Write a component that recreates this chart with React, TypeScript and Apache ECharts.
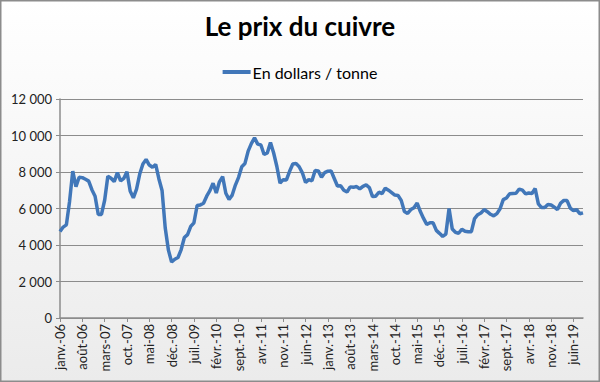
import React, { useEffect, useRef } from "react";
import * as echarts from "echarts";

const monthNames = ["janv.", "févr.", "mars", "avr.", "mai", "juin", "juil.", "août", "sept.", "oct.", "nov.", "déc."];
const years = ["06", "07", "08", "09", "10", "11", "12", "13", "14", "15", "16", "17", "18", "19"];

const prices2006 = [4734, 4982, 5102, 6388, 8046, 7197, 7712, 7692, 7601, 7500, 7029, 6675];
const prices2007 = [5670, 5676, 6452, 7766, 7657, 7475, 7970, 7510, 7649, 8008, 6963, 6587];
const prices2008 = [7061, 7888, 8439, 8685, 8383, 8260, 8414, 7633, 6990, 4926, 3717, 3072];
const prices2009 = [3221, 3315, 3750, 4407, 4569, 5015, 5216, 6165, 6196, 6288, 6676, 6982];
const prices2010 = [7386, 6848, 7463, 7745, 6838, 6499, 6735, 7284, 7709, 8292, 8470, 9147];
const prices2011 = [9556, 9868, 9530, 9483, 8959, 9045, 9620, 9040, 8300, 7394, 7581, 7566];
const prices2012 = [8040, 8441, 8471, 8290, 7955, 7423, 7584, 7515, 8088, 8062, 7711, 7966];
const prices2013 = [8047, 8060, 7646, 7234, 7249, 7000, 6907, 7186, 7159, 7203, 7071, 7215];
const prices2014 = [7291, 7149, 6650, 6674, 6891, 6821, 7113, 7002, 6872, 6737, 6713, 6446];
const prices2015 = [5831, 5729, 5940, 6042, 6295, 5833, 5457, 5127, 5217, 5216, 4800, 4639];
const prices2016 = [4472, 4599, 6000, 4873, 4695, 4642, 4864, 4751, 4722, 4731, 5450, 5660];
const prices2017 = [5755, 5941, 5825, 5684, 5600, 5720, 5985, 6485, 6577, 6809, 6826, 6834];
const prices2018 = [7066, 7006, 6800, 6852, 6824, 7092, 6252, 6051, 6050, 6220, 6195, 6073];
const prices2019 = [5939, 6301, 6439, 6433, 6024, 5882, 5941, 5710, 5760];

const prices = [
  ...prices2006, ...prices2007, ...prices2008, ...prices2009, ...prices2010,
  ...prices2011, ...prices2012, ...prices2013, ...prices2014, ...prices2015,
  ...prices2016, ...prices2017, ...prices2018, ...prices2019,
];

const categories: string[] = [];
years.forEach((y) => monthNames.forEach((m) => categories.push(`${m}-${y}`)));
categories.length = prices.length;

const yTicks = { min: 0, max: 12000, interval: 2000 };

export default function App() {
  const ref = useRef<HTMLDivElement>(null);
  useEffect(() => {
    if (!ref.current) return;
    const chart = echarts.init(ref.current, null, { renderer: "svg" });
    const font = "Lato, 'Noto Sans', sans-serif";
    chart.setOption({
      animation: false,
      backgroundColor: {
        type: "linear", x: 0, y: 0, x2: 0, y2: 1,
        colorStops: [{ offset: 0, color: "#ffffff" }, { offset: 1, color: "#ebebeb" }],
      },
      title: {
        text: "Le prix du cuivre",
        left: "center",
        top: 8,
        textStyle: { fontFamily: font, fontWeight: "bold", fontSize: 26, color: "#000" },
      },
      legend: {
        top: 59,
        left: "center",
        icon: "rect",
        itemWidth: 28,
        itemHeight: 4,
        textStyle: { fontFamily: font, fontSize: 16, color: "#000", padding: [0, 0, 0, -3] },
        data: ["En dollars / tonne"],
      },
      grid: { left: 60, right: 17, top: 99, bottom: 64 },
      xAxis: {
        type: "category",
        data: categories,
        boundaryGap: false,
        axisLine: { lineStyle: { color: "#8c8c8c", width: 1.5 } },
        axisTick: { interval: 6, length: 4, lineStyle: { color: "#8c8c8c" } },
        axisLabel: {
          interval: 6,
          rotate: 90,
          margin: 6,
          fontFamily: font,
          fontSize: 13,
          color: "#222",
        },
      },
      yAxis: {
        type: "value",
        min: yTicks.min,
        max: yTicks.max,
        interval: yTicks.interval,
        axisLine: { show: true, lineStyle: { color: "#8c8c8c", width: 1.5 } },
        axisTick: { show: true, length: 4, lineStyle: { color: "#8c8c8c" } },
        splitLine: { lineStyle: { color: "#8c8c8c", width: 1.2 } },
        axisLabel: {
          fontFamily: font,
          fontSize: 13,
          color: "#222",
          margin: 8,
          formatter: (v: number) => String(v).replace(/\B(?=(\d{3})+(?!\d))/g, " "),
        },
      },
      series: [
        {
          name: "En dollars / tonne",
          type: "line",
          data: prices,
          showSymbol: false,
          symbol: "none",
          lineStyle: { color: "#4177b9", width: 3.5 },
          itemStyle: { color: "#4177b9" },
        },
      ],
      graphic: [
        {
          type: "rect",
          shape: { x: 0.75, y: 0.75, width: 598.5, height: 380.5 },
          style: { fill: "none", stroke: "#8c8c8c", lineWidth: 1.5 },
          silent: true,
        },
      ],
    });
    return () => chart.dispose();
  }, []);
  return <div ref={ref} style={{ position: "fixed", left: 0, top: 0, width: 600, height: 382 }} />;
}
